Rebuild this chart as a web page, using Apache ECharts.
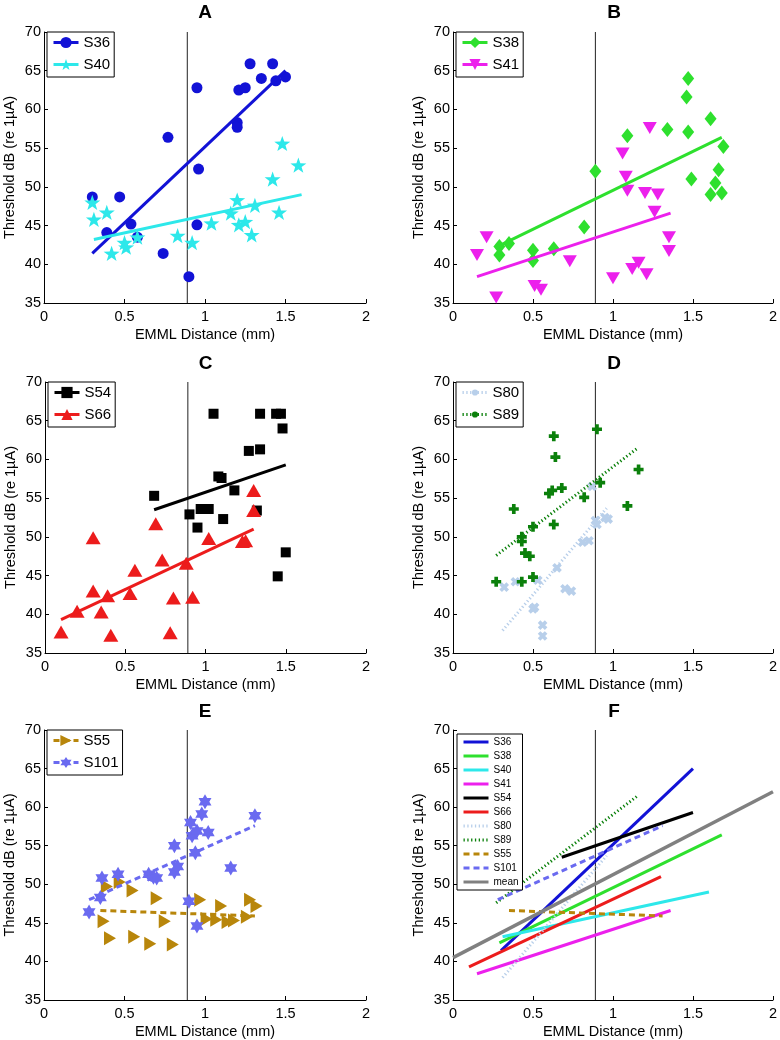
<!DOCTYPE html>
<html>
<head>
<meta charset="utf-8">
<script src="https://cdn.jsdelivr.net/npm/echarts@6/dist/echarts.min.js"></script>
<style>
html, body { margin: 0; padding: 0; background: #fff; }
#chart { width: 780px; height: 1040px; }
</style>
</head>
<body>
<div id="chart"></div>
<script>
// threshold vs EMML distance, one pair of subjects per panel
var s36 = [[0.30,48.7],[0.39,44.1],[0.47,48.7],[0.54,45.2],[0.58,43.5],[0.74,41.4],[0.77,56.4],[0.90,38.4],[0.95,62.8],[0.96,52.3],[0.95,45.1],[1.20,58.3],[1.20,57.7],[1.21,62.5],[1.25,62.8],[1.28,65.9],[1.35,64.0],[1.42,65.9],[1.44,63.7],[1.50,64.2]];
var s40 = [[0.30,48.0],[0.31,45.8],[0.39,46.7],[0.42,41.4],[0.50,42.8],[0.51,42.2],[0.58,43.5],[0.83,43.7],[0.92,42.8],[1.04,45.3],[1.16,46.6],[1.20,48.3],[1.21,45.1],[1.25,45.5],[1.29,43.8],[1.31,47.6],[1.42,51.0],[1.46,46.7],[1.48,55.6],[1.58,52.8]];
var s38 = [[0.29,42.3],[0.29,41.2],[0.35,42.7],[0.50,41.8],[0.50,40.5],[0.63,42.0],[0.82,44.8],[0.89,52.0],[1.09,56.6],[1.34,57.4],[1.46,61.6],[1.47,64.0],[1.47,57.1],[1.49,51.0],[1.61,58.8],[1.61,49.0],[1.64,50.5],[1.66,52.2],[1.68,49.2],[1.69,55.2]];
var s41 = [[0.15,41.2],[0.21,43.5],[0.27,35.7],[0.51,37.2],[0.55,36.7],[0.73,40.4],[1.00,38.2],[1.06,54.3],[1.08,51.3],[1.09,49.5],[1.12,39.4],[1.16,40.2],[1.21,38.7],[1.23,57.6],[1.20,49.2],[1.28,49.0],[1.26,46.8],[1.35,43.5],[1.35,41.7]];
var s54 = [[0.68,55.3],[0.90,52.9],[0.95,51.2],[0.97,53.6],[1.02,53.6],[1.05,65.9],[1.08,57.8],[1.10,57.6],[1.11,52.3],[1.18,56.0],[1.27,61.1],[1.34,61.3],[1.34,65.9],[1.44,65.9],[1.47,65.9],[1.48,64.0],[1.32,53.4],[1.45,44.9],[1.50,48.0]];
var s66 = [[0.10,37.7],[0.20,40.4],[0.30,49.9],[0.30,43.0],[0.35,40.3],[0.39,42.4],[0.41,37.3],[0.56,45.7],[0.53,42.7],[0.69,51.7],[0.73,47.0],[0.78,37.6],[0.80,42.1],[0.88,46.6],[0.92,42.2],[1.02,49.8],[1.23,49.4],[1.25,49.5],[1.30,56.0],[1.30,53.4]];
var s80 = [[0.32,43.5],[0.39,44.2],[0.50,40.7],[0.51,40.9],[0.53,44.4],[0.56,38.6],[0.56,37.2],[0.65,46.0],[0.70,43.3],[0.74,43.0],[0.81,49.3],[0.85,49.5],[0.87,56.5],[0.89,52.1],[0.90,51.6],[0.95,52.5],[0.97,52.3]];
var s89 = [[0.27,44.2],[0.38,53.6],[0.43,50.0],[0.43,49.4],[0.43,44.2],[0.45,47.9],[0.48,47.5],[0.50,51.3],[0.50,44.8],[0.63,63.0],[0.64,60.3],[0.60,55.6],[0.62,56.0],[0.68,56.3],[0.63,51.6],[0.82,55.1],[0.90,63.9],[0.92,57.0],[1.09,54.0],[1.16,58.7]];
var s55 = [[0.39,49.7],[0.47,50.3],[0.37,45.2],[0.41,43.0],[0.55,49.2],[0.56,43.2],[0.66,42.3],[0.70,48.2],[0.75,45.2],[0.80,42.2],[0.97,48.0],[1.01,45.5],[1.07,45.4],[1.10,47.2],[1.14,45.1],[1.18,45.3],[1.26,45.8],[1.28,48.0],[1.32,47.2]];
var s101 = [[0.28,46.4],[0.35,48.3],[0.36,50.8],[0.46,51.3],[0.65,51.3],[0.68,50.9],[0.70,50.8],[0.81,55.0],[0.81,51.6],[0.83,52.3],[0.90,47.8],[0.91,58.0],[0.92,56.3],[0.94,54.1],[0.95,56.9],[0.95,44.6],[0.98,59.1],[1.00,60.7],[1.02,56.7],[1.16,52.1],[1.31,58.9]];

// fitted regression lines (end points)
var s36Fit = [[0.30,41.4],[1.50,65.0]];
var s40Fit = [[0.31,43.2],[1.60,49.0]];
var s38Fit = [[0.29,42.4],[1.68,56.4]];
var s41Fit = [[0.15,38.4],[1.36,46.6]];
var s54Fit = [[0.68,53.5],[1.50,59.3]];
var s66Fit = [[0.10,39.3],[1.30,51.0]];
var s80Fit = [[0.31,37.9],[0.96,53.7]];
var s89Fit = [[0.27,47.6],[1.15,61.4]];
var s55Fit = [[0.35,46.6],[1.31,45.9]];
var s101Fit = [[0.28,48.0],[1.31,57.6]];
var meanFit = [[0,40.5],[2,62.0]];

var emmlCut = 0.89;
var panelTitles = ['A', 'B', 'C', 'D', 'E', 'F'];
var xTicks = {min: 0, max: 2, interval: 0.5};
var yTicks = {min: 35, max: 70, interval: 5};

var FONT = '"Liberation Sans", Arial, Helvetica, sans-serif';

var star5 = 'path://M0,-10L2.35,-3.24L9.51,-3.09L3.8,1.24L5.88,8.09L0,4L-5.88,8.09L-3.8,1.24L-9.51,-3.09L-2.35,-3.24Z';
var star6 = 'path://M0,-10L2.89,-5L8.66,-5L5.77,0L8.66,5L2.89,5L0,10L-2.89,5L-8.66,5L-5.77,0L-8.66,-5L-2.89,-5Z';
var plus = 'path://M-2.2,-6L2.2,-6L2.2,-2.2L6,-2.2L6,2.2L2.2,2.2L2.2,6L-2.2,6L-2.2,2.2L-6,2.2L-6,-2.2L-2.2,-2.2Z';
// small dot for the legend of panel D (extent padded with hidden moves)
var smallDot = 'path://M-10,-10M10,10M0,-5.5A5.5,5.5,0,1,1,0,5.5A5.5,5.5,0,1,1,0,-5.5Z';

var subjects = {
  S36:  {pts: s36,  fit: s36Fit,  color: '#1212d6', symbol: 'circle',   size: 11, rot: 0,   line: 'solid'},
  S40:  {pts: s40,  fit: s40Fit,  color: '#2de8ea', symbol: star5,      size: 16, rot: 0,   line: 'solid'},
  S38:  {pts: s38,  fit: s38Fit,  color: '#2ee02e', symbol: 'diamond',  size: [12, 15], rot: 0, line: 'solid'},
  S41:  {pts: s41,  fit: s41Fit,  color: '#ec20ec', symbol: 'triangle', size: [14, 12], rot: 180, line: 'solid'},
  S54:  {pts: s54,  fit: s54Fit,  color: '#000000', symbol: 'rect',     size: 10, rot: 0,   line: 'solid'},
  S66:  {pts: s66,  fit: s66Fit,  color: '#ec1c1c', symbol: 'triangle', size: [15, 13], rot: 0, line: 'solid'},
  S80:  {pts: s80,  fit: s80Fit,  color: '#b8cfea', symbol: plus,       size: 10, rot: 45,  line: [1.3, 2.5], legendSymbol: smallDot},
  S89:  {pts: s89,  fit: s89Fit,  color: '#0b800b', symbol: plus,       size: 10, rot: 0,   line: [1.3, 2.5], legendSymbol: smallDot},
  S55:  {pts: s55,  fit: s55Fit,  color: '#b8860b', symbol: 'triangle', size: [14, 12], rot: -90, line: [6, 4]},
  S101: {pts: s101, fit: s101Fit, color: '#6a6af0', symbol: star6,      size: 15, rot: 0,   line: [6, 4]}
};
var panelSubjects = [['S36', 'S40'], ['S38', 'S41'], ['S54', 'S66'], ['S80', 'S89'], ['S55', 'S101']];
var fOrder = ['S36', 'S38', 'S40', 'S41', 'S54', 'S66', 'S80', 'S89', 'S55', 'S101'];

var grids = [
  {left: 44, top: 32, width: 322, height: 271},
  {left: 453, top: 32, width: 322, height: 271},
  {left: 45, top: 382, width: 321, height: 271},
  {left: 453, top: 382, width: 322, height: 271},
  {left: 44, top: 730, width: 322, height: 272},
  {left: 453, top: 730, width: 322, height: 272}
];
var titleTops = [3, 3, 354, 354, 702, 702];

var option = {
  animation: false,
  backgroundColor: '#fff',
  grid: grids,
  title: [], xAxis: [], yAxis: [], legend: [], series: []
};

grids.forEach(function (g, i) {
  option.title.push({
    text: panelTitles[i], left: g.left + g.width / 2, top: titleTops[i], textAlign: 'center', padding: 0,
    textStyle: {fontSize: 19, fontWeight: 'bold', color: '#000', fontFamily: FONT}
  });
  option.xAxis.push({
    type: 'value', gridIndex: i, min: xTicks.min, max: xTicks.max, interval: xTicks.interval,
    name: 'EMML Distance (mm)', nameLocation: 'middle', nameGap: 24,
    nameTextStyle: {color: '#000', fontSize: 14.5, fontFamily: FONT},
    axisLine: {onZero: false, lineStyle: {color: '#000', width: 1}},
    axisTick: {inside: true, length: 4, lineStyle: {color: '#000'}},
    axisLabel: {color: '#000', fontSize: 14.5, fontFamily: FONT, margin: 6},
    splitLine: {show: false}
  });
  option.yAxis.push({
    type: 'value', gridIndex: i, min: yTicks.min, max: yTicks.max, interval: yTicks.interval,
    name: i === 5 ? 'Threshold (dB re 1\u00b5A)' : 'Threshold dB (re 1\u00b5A)',
    nameLocation: 'middle', nameGap: 27,
    nameTextStyle: {color: '#000', fontSize: 14.5, fontFamily: FONT},
    axisLine: {onZero: false, lineStyle: {color: '#000', width: 1}},
    axisTick: {inside: true, length: 4, lineStyle: {color: '#000'}},
    axisLabel: {color: '#000', fontSize: 14.5, fontFamily: FONT, margin: 3},
    splitLine: {show: false}
  });
  // vertical reference line
  option.series.push({
    type: 'line', name: 'cut' + i, xAxisIndex: i, yAxisIndex: i, silent: true, symbol: 'none', z: 1,
    data: [[emmlCut, yTicks.min], [emmlCut, yTicks.max]],
    lineStyle: {color: '#222', width: 1}
  });
});

panelSubjects.forEach(function (names, i) {
  names.forEach(function (n) {
    var s = subjects[n];
    option.series.push({
      type: 'scatter', name: n + ' pts', xAxisIndex: i, yAxisIndex: i, silent: true, z: 2,
      data: s.pts, symbol: s.symbol, symbolSize: s.size, symbolRotate: s.rot, symbolKeepAspect: true,
      itemStyle: {color: s.color, opacity: 1}
    });
  });
  names.forEach(function (n) {
    var s = subjects[n];
    option.series.push({
      type: 'line', name: n, xAxisIndex: i, yAxisIndex: i, silent: true, z: 3,
      data: s.fit, symbol: s.legendSymbol || s.symbol, symbolRotate: s.legendSymbol ? 0 : s.rot, showSymbol: false,
      itemStyle: {color: s.color},
      lineStyle: {color: s.color, width: 3, type: s.line}
    });
  });
  option.legend.push({
    data: names, left: grids[i].left + 3, top: grids[i].top, orient: 'vertical',
    itemWidth: 25, itemHeight: 14, itemGap: 7, padding: [3, 4, 5, 5],
    borderColor: '#000', borderWidth: 1, backgroundColor: '#fff', selectedMode: false,
    textStyle: {fontSize: 15, color: '#000', fontFamily: FONT},
    lineStyle: {width: 3}
  });
});

// panel F: all fits and the mean
fOrder.forEach(function (n) {
  var s = subjects[n];
  option.series.push({
    type: 'line', name: 'F ' + n, xAxisIndex: 5, yAxisIndex: 5, silent: true, z: 3,
    data: s.fit, symbol: 'none',
    itemStyle: {color: s.color},
    lineStyle: {color: s.color, width: 3, type: s.line}
  });
});
option.series.push({
  type: 'line', name: 'F mean', xAxisIndex: 5, yAxisIndex: 5, silent: true, z: 3,
  data: meanFit, symbol: 'none',
  itemStyle: {color: '#808080'},
  lineStyle: {color: '#808080', width: 3.5}
});
option.legend.push({
  data: fOrder.map(function (n) { return 'F ' + n; }).concat(['F mean']),
  formatter: function (name) { return name.slice(2); },
  left: 457, top: 734, orient: 'vertical',
  itemWidth: 25, itemHeight: 8, itemGap: 4, padding: [3, 4, 3, 5],
  borderColor: '#000', borderWidth: 1, backgroundColor: '#fff', selectedMode: false,
  textStyle: {fontSize: 10, color: '#000', fontFamily: FONT},
  itemStyle: {opacity: 0},
  lineStyle: {width: 3}
});

var myChart = echarts.init(document.getElementById('chart'));
myChart.setOption(option);
</script>
</body>
</html>
